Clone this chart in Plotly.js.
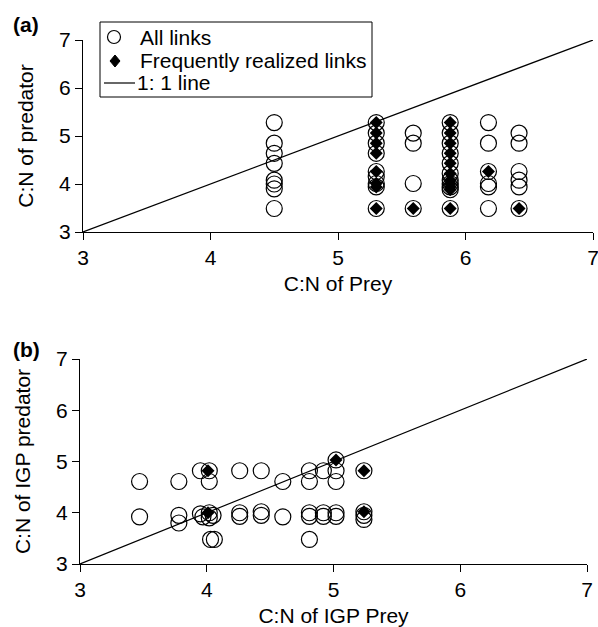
<!DOCTYPE html>
<html>
<head>
<meta charset="utf-8">
<script src="https://cdn.plot.ly/plotly-3.0.1.min.js"></script>
<style>html,body{margin:0;padding:0;background:#fff;}#chart{width:598px;height:627px;}</style>
</head>
<body>
<div id="chart"></div>
<script>
// 1:1 reference line
var oneToOne = [3, 7];

// Legend labels
var legendLabels = ['All links', 'Frequently realized links', '1: 1 line'];

// Panel (a): C:N of prey vs C:N of predator, all links
var allA_x = [4.5,4.5,4.5,4.5,4.5,4.5,4.5,4.5,
              5.3,5.3,5.3,5.3,5.3,5.3,5.3,5.3,5.3,
              5.59,5.59,5.59,5.59,
              5.88,5.88,5.88,5.88,5.88,5.88,5.88,5.88,5.88,5.88,5.88,
              6.18,6.18,6.18,6.18,6.18,6.18,
              6.42,6.42,6.42,6.42,6.42,6.42];
var allA_y = [5.28,4.85,4.64,4.43,4.08,4.0,3.9,3.49,
              5.28,5.06,4.85,4.64,4.26,4.15,4.01,3.94,3.49,
              5.06,4.85,4.01,3.49,
              5.28,5.06,4.85,4.64,4.43,4.22,4.08,4.01,3.94,3.88,3.49,
              5.28,4.85,4.26,4.01,3.94,3.49,
              5.06,4.85,4.26,4.08,3.94,3.49];
// Panel (a): frequently realized links
var freqA_x = [5.3,5.3,5.3,5.3,5.3,5.3,5.3,5.3,
               5.59,
               5.88,5.88,5.88,5.88,5.88,5.88,5.88,5.88,5.88,5.88,5.88,
               6.18,
               6.42];
var freqA_y = [5.28,5.06,4.85,4.64,4.26,4.01,3.94,3.49,
               3.49,
               5.28,5.06,4.85,4.64,4.43,4.22,4.08,4.01,3.94,3.88,3.49,
               4.26,
               3.49];

// Panel (b): C:N of IGP prey vs C:N of IGP predator, all links
var allB_x = [3.47,3.47,
              3.78,3.78,3.78,
              3.95,3.95,3.97,
              4.02,4.02,4.02,4.02,4.03,4.06,4.05,
              4.26,4.26,4.26,
              4.43,4.43,4.43,
              4.6,4.6,
              4.81,4.81,4.81,4.81,4.81,
              4.92,4.92,4.92,
              5.02,5.02,5.02,5.02,5.02,
              5.24,5.24,5.24,5.24];
var allB_y = [4.61,3.92,
              4.61,3.95,3.8,
              4.82,3.98,3.92,
              4.82,4.61,4.0,3.9,3.48,3.48,3.95,
              4.82,4.0,3.93,
              4.82,4.02,3.95,
              4.61,3.92,
              4.82,4.61,4.0,3.93,3.48,
              4.82,4.0,3.93,
              5.03,4.82,4.61,4.0,3.93,
              4.82,4.02,3.95,3.87];
// Panel (b): frequently realized links
var freqB_x = [4.01,4.01,5.02,5.24,5.24];
var freqB_y = [4.82,4.0,5.03,4.82,4.02];

var FONT = 'Liberation Sans, Arial, Helvetica, sans-serif';
var W = 598, H = 627;
function px(v){ return v / W; }
function py(v){ return 1 - v / H; }

var circ = {symbol:'circle-open', size:16, color:'#000', line:{width:1.2, color:'#000'}};
var diam = {symbol:'diamond', size:10, color:'#000'};

var traces = [
  {x: oneToOne, y: oneToOne, mode:'lines', line:{color:'#000', width:1.2}, name:legendLabels[2], xaxis:'x', yaxis:'y', hoverinfo:'skip'},
  {x: allA_x, y: allA_y, mode:'markers', marker:circ, name:legendLabels[0], xaxis:'x', yaxis:'y'},
  {x: freqA_x, y: freqA_y, mode:'markers', marker:diam, name:legendLabels[1], xaxis:'x', yaxis:'y'},
  {x: oneToOne, y: oneToOne, mode:'lines', line:{color:'#000', width:1.2}, xaxis:'x2', yaxis:'y2', hoverinfo:'skip'},
  {x: allB_x, y: allB_y, mode:'markers', marker:circ, xaxis:'x2', yaxis:'y2'},
  {x: freqB_x, y: freqB_y, mode:'markers', marker:diam, xaxis:'x2', yaxis:'y2'}
];

function ax(extra){
  var a = {range:[3,7], tickvals:[3,4,5,6,7], showline:true, linecolor:'#000', linewidth:1,
    ticks:'outside', ticklen:7, tickcolor:'#000', tickwidth:1, showgrid:false, zeroline:false,
    tickfont:{family:FONT, size:21, color:'#000'}, automargin:false, fixedrange:true,
    ticklabeloverflow:'allow'};
  for (var k in extra) a[k] = extra[k];
  return a;
}

// Hand-drawn legend box (paper coordinates)
var shapes = [
  {type:'rect', xref:'paper', yref:'paper', x0:px(100), x1:px(372), y0:py(97), y1:py(22),
   line:{color:'#000', width:1}, fillcolor:'#fff', layer:'above'},
  {type:'circle', xref:'paper', yref:'paper', x0:px(107.5), x1:px(120.5), y0:py(43.5), y1:py(30.5),
   line:{color:'#000', width:1.2}, fillcolor:'rgba(0,0,0,0)', layer:'above'},
  {type:'path', xref:'paper', yref:'paper',
   path:'M '+px(115)+','+py(55)+' L '+px(120)+','+py(61)+' L '+px(115)+','+py(67)+' L '+px(110)+','+py(61)+' Z',
   line:{color:'#000', width:1}, fillcolor:'#000', layer:'above'},
  {type:'line', xref:'paper', yref:'paper', x0:px(104), x1:px(135), y0:py(83), y1:py(83),
   line:{color:'#000', width:1.2}, layer:'above'}
];

var layout = {
  width:W, height:H,
  margin:{l:0, r:0, t:0, b:0},
  paper_bgcolor:'#fff', plot_bgcolor:'#fff',
  font:{family:FONT, size:21, color:'#000'},
  showlegend:false,
  xaxis: ax({domain:[px(83), px(593)], anchor:'y',
    title:{text:'C:N of Prey', font:{family:FONT, size:21, color:'#000'}, standoff:8}}),
  yaxis: ax({domain:[py(232), py(40)], anchor:'x',
    title:{text:'C:N of predator', font:{family:FONT, size:21, color:'#000'}, standoff:19}}),
  xaxis2: ax({domain:[px(80), px(587)], anchor:'y2',
    title:{text:'C:N of IGP Prey', font:{family:FONT, size:21, color:'#000'}, standoff:8}}),
  yaxis2: ax({domain:[py(564), py(359)], anchor:'x2',
    title:{text:'C:N of IGP predator', font:{family:FONT, size:21, color:'#000'}, standoff:19}}),
  shapes: shapes,
  annotations:[
    {text:'<b>(a)</b>', xref:'paper', yref:'paper', x:px(11), y:py(11), xanchor:'left', yanchor:'top', showarrow:false, font:{family:FONT, size:21, color:'#000'}},
    {text:'<b>(b)</b>', xref:'paper', yref:'paper', x:px(11), y:py(336), xanchor:'left', yanchor:'top', showarrow:false, font:{family:FONT, size:21, color:'#000'}},
    {text:legendLabels[0], xref:'paper', yref:'paper', x:px(138), y:py(37), xanchor:'left', yanchor:'middle', showarrow:false, font:{family:FONT, size:21, color:'#000'}},
    {text:legendLabels[1], xref:'paper', yref:'paper', x:px(138), y:py(60), xanchor:'left', yanchor:'middle', showarrow:false, font:{family:FONT, size:21, color:'#000'}},
    {text:legendLabels[2], xref:'paper', yref:'paper', x:px(135), y:py(83), xanchor:'left', yanchor:'middle', showarrow:false, font:{family:FONT, size:21, color:'#000'}}
  ]
};

Plotly.newPlot('chart', traces, layout, {displayModeBar:false, staticPlot:true});
</script>
</body>
</html>
